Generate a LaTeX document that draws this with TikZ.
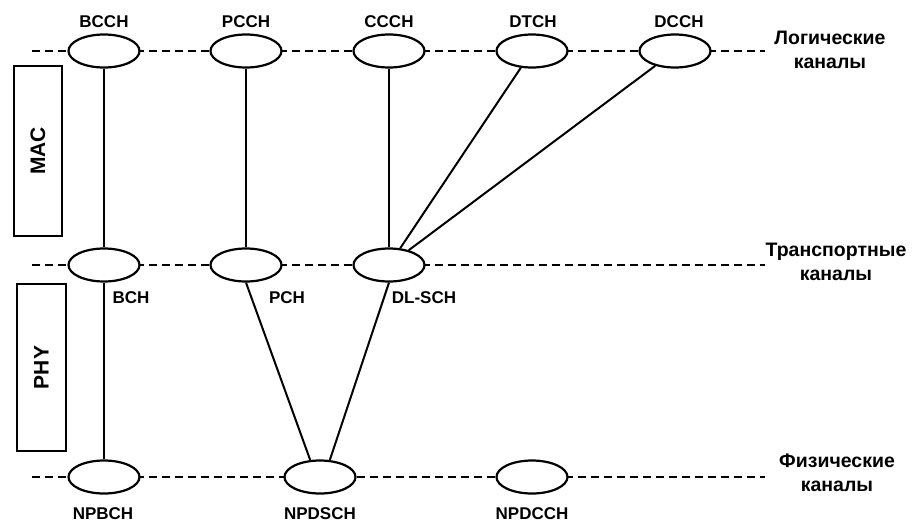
\documentclass[tikz,border=0pt]{standalone}
\usepackage{fontspec}
\setmainfont{Liberation Sans}
\usetikzlibrary{shapes.geometric}
\begin{document}
\begin{tikzpicture}[x=1pt,y=-1pt,
  ch/.style={ellipse,draw,line width=2.2pt,fill=white,minimum width=71pt,minimum height=33pt,inner sep=0pt},
  lbl/.style={font=\fontsize{17}{19}\selectfont\bfseries,inner sep=0pt},
  side/.style={font=\fontsize{19.5}{24}\selectfont\bfseries,align=center,inner sep=0pt},
  link/.style={line width=2pt},
  level/.style={line width=2pt,dash pattern=on 8pt off 5pt},
  layer/.style={draw,line width=2pt,rotate=90,inner sep=0pt,font=\fontsize{21}{23}\selectfont\bfseries}]
\useasboundingbox (0,0) rectangle (915,523);
% layer boxes
\node[layer,minimum width=170pt,minimum height=48pt] (mac) at (38,151) {MAC};
\node[layer,minimum width=167pt,minimum height=49pt] (phy) at (41.5,367.5) {PHY};
% level lines
\coordinate (l1a) at (32,51);  \coordinate (l1b) at (765,51);
\coordinate (l2a) at (32,265); \coordinate (l2b) at (765,265);
\coordinate (l3a) at (32,477); \coordinate (l3b) at (765,477);
\draw[level] (l1a) -- (l1b);
\draw[level] (l2a) -- (l2b);
\draw[level] (l3a) -- (l3b);
% logical channels
\node[ch] (bcch) at (104,51) {};
\node[ch] (pcch) at (246,51) {};
\node[ch] (ccch) at (389,51) {};
\node[ch] (dtch) at (532,51) {};
\node[ch] (dcch) at (675,51) {};
% transport channels
\node[ch] (bch) at (104,265) {};
\node[ch] (pch) at (246,265) {};
\node[ch] (dlsch) at (389,265) {};
% physical channels
\node[ch] (npbch) at (104,477) {};
\node[ch] (npdsch) at (320,477) {};
\node[ch] (npdcch) at (532,477) {};
% labels
\node[lbl] (bcchl) at (104,22) {BCCH};
\node[lbl] (pcchl) at (246,22) {PCCH};
\node[lbl] (ccchl) at (389,22) {CCCH};
\node[lbl] (dtchl) at (533,22) {DTCH};
\node[lbl] (dcchl) at (679,22) {DCCH};
\node[lbl] (bchl) at (131,298) {BCH};
\node[lbl] (pchl) at (287,298) {PCH};
\node[lbl] (dlschl) at (424,298) {DL-SCH};
\node[lbl] (npbchl) at (103,514) {NPBCH};
\node[lbl] (npdschl) at (320,514) {NPDSCH};
\node[lbl] (npdcchl) at (532,514) {NPDCCH};
% side labels
\node[side] (logic) at (830,50) {Логические\\каналы};
\node[side] (transp) at (836,262) {Транспортные\\каналы};
\node[side] (phys) at (837,473) {Физические\\каналы};
% connectors
\draw[link] (bcch) -- (bch);
\draw[link] (bch) -- (npbch);
\draw[link] (pcch) -- (pch);
\draw[link] (ccch) -- (dlsch);
\draw[link] (dtch) -- (dlsch);
\draw[link] (dcch) -- (dlsch);
\draw[link] (pch.south) -- (npdsch.120);
\draw[link] (dlsch.south) -- (npdsch.60);
\end{tikzpicture}
\end{document}
